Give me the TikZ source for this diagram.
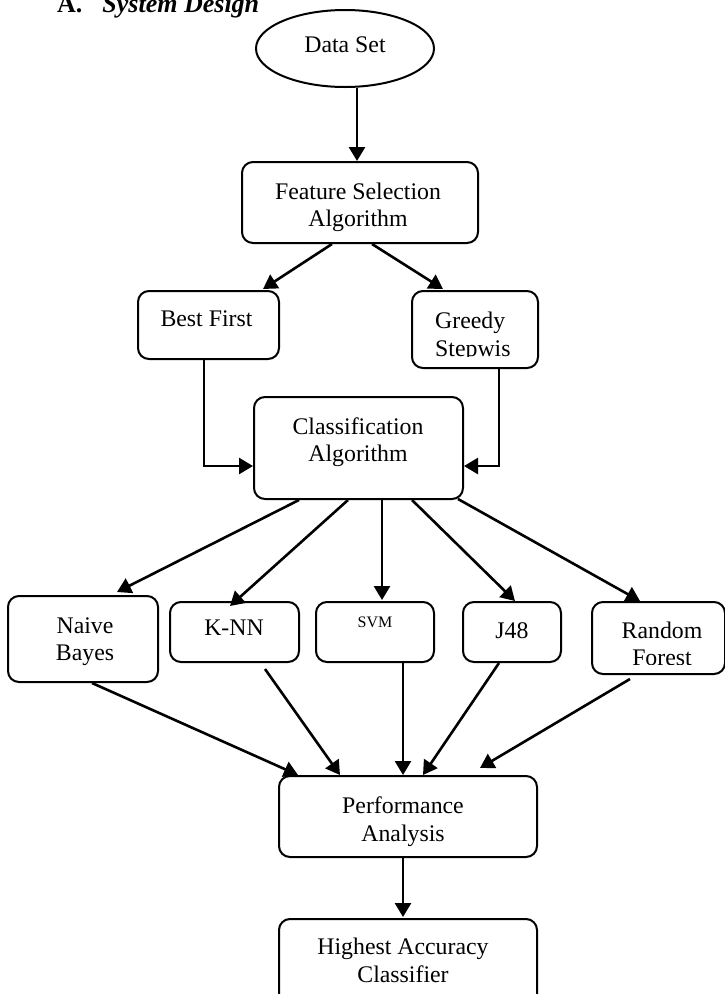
\documentclass[tikz,border=0pt]{standalone}
\usepackage{fontspec}
\setmainfont{Liberation Serif}
\usetikzlibrary{arrows.meta,calc,shapes.geometric}
\begin{document}
\begin{tikzpicture}[x=1pt,y=-1pt,
  box/.style={draw, line width=2pt, rounded corners=11pt, inner sep=0pt},
  txt/.style={anchor=base, align=center, inner sep=0pt, font=\fontsize{23.8}{27.5}\selectfont},
  smalltxt/.style={anchor=base, inner sep=0pt, font=\fontsize{16}{19}\selectfont},
  arr/.style={line width=2.6pt, -{Triangle[length=14pt,width=16pt]}},
  title/.style={anchor=base west, inner sep=0pt, font=\fontsize{26}{30}\selectfont\bfseries}]
\useasboundingbox (0,0) rectangle (725,994);

% title
\node[title] (ttl) at (57,12.5) {A.\hspace{20pt}\textit{System Design}};

% shapes
\node[draw, ellipse, line width=2pt, minimum width=178pt, minimum height=77pt, inner sep=0pt] (data) at (345,48.5) {};
\node[box, minimum width=236pt, minimum height=81pt] (feat) at (360,202.5) {};
\node[box, minimum width=141pt, minimum height=68pt] (best) at (208.5,325) {};
\node[box, minimum width=126pt, minimum height=77pt] (greedy) at (475,329.5) {};
\node[box, minimum width=209pt, minimum height=102pt] (cls) at (358.5,448) {};
\node[box, minimum width=150pt, minimum height=86pt] (naive) at (83,639) {};
\node[box, minimum width=129pt, minimum height=60pt] (knn) at (234.5,632) {};
\node[box, minimum width=118pt, minimum height=60pt] (svm) at (375,632) {};
\node[box, minimum width=98pt, minimum height=60pt] (j48) at (512,632) {};
\node[box, minimum width=133pt, minimum height=72pt] (rf) at (658.5,638) {};
\node[box, minimum width=258pt, minimum height=81pt] (perf) at (408,816.5) {};
\node[box, minimum width=258pt, minimum height=91pt] (high) at (408,964.5) {};

% texts (multi-line nodes: base = baseline of last line)
\node[txt] (tdata) at (345,52.5) {Data Set};
\node[txt] (tfeat) at (358,226.5) {Feature Selection\\Algorithm};
\node[txt] (tbest) at (206.5,326) {Best First};
\begin{scope}
  \clip (greedy.north west) rectangle ($(greedy.south east)+(0,-13)$);
  \node[txt, align=left, anchor=base west] (tgreedy) at (435,356) {Greedy\\Stepwis};
\end{scope}
\node[txt] (tcls) at (358,461.5) {Classification\\Algorithm};
\node[txt] (tnaive) at (85,660.5) {Naive\\Bayes};
\node[txt] (tknn) at (234,635) {K-NN};
\node[smalltxt] (tsvm) at (375,627.5) {SVM};
\node[txt] (tj48) at (512,638) {J48};
\begin{scope}
  \clip (rf.north west) rectangle ($(rf.south east)+(0,-11)$);
  \node[txt] (trf) at (662,665.5) {Random\\Forest};
\end{scope}
\node[txt] (tperf) at (403,841) {Performance\\Analysis};
\node[txt] (thigh) at (403,982) {Highest Accuracy\\Classifier};

% connectors
\draw[arr] ($(data.south)+(12,0)$) -- ($(feat.north)+(-3,0)$);
\draw[arr] ($(feat.south)+(-28,0)$) -- ($(best.north)+(54.5,-1)$);
\draw[arr] ($(feat.south)+(12,0)$) -- ($(greedy.north)+(-32,-1)$);
\draw[arr] ($(best.south)+(-4.5,0)$) |- ($(cls.west)+(0,18)$);
\draw[arr] ($(greedy.south)+(24,0)$) |- ($(cls.east)+(0,18)$);
\draw[arr] ($(cls.south)+(-59.5,0)$) -- ($(naive.north)+(34,-3)$);
\draw[arr] ($(cls.south)+(-10.5,0)$) -- ($(knn.north)+(-4.5,5)$);
\draw[arr] ($(cls.south)+(23.5,0)$) -- ($(svm.north)+(7,-1)$);
\draw[arr] ($(cls.south)+(53.5,0)$) -- ($(j48.north)+(3,0)$);
\draw[arr] ($(cls.south)+(99.5,-1)$) -- ($(rf.north)+(-18.5,0)$);
\draw[arr] ($(naive.south)+(9,0)$) -- ($(perf.north)+(-110,0)$);
\draw[arr] ($(knn.south)+(30.5,6)$) -- ($(perf.north)+(-68,0)$);
\draw[arr] ($(svm.south)+(28,0)$) -- ($(perf.north)+(-5,0)$);
\draw[arr] ($(j48.south)+(-13,0)$) -- ($(perf.north)+(15,0)$);
\draw[arr] ($(rf.south)+(-28.5,4)$) -- ($(perf.north)+(72,-7)$);
\draw[arr] ($(perf.south)+(-5,0)$) -- ($(high.north)+(-5,-1)$);
\end{tikzpicture}
\end{document}
